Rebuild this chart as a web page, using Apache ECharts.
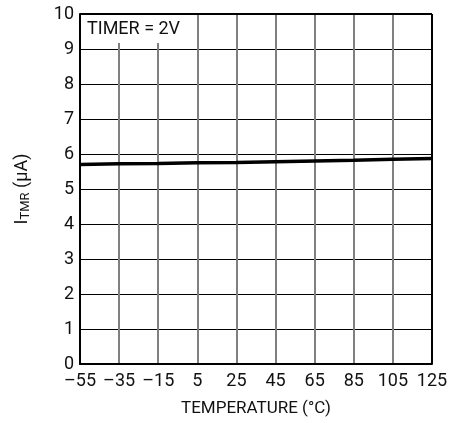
<!DOCTYPE html>
<html><head><meta charset="utf-8">
<script src="https://cdn.jsdelivr.net/npm/echarts@6/dist/echarts.min.js"></script>
<style>html,body{margin:0;padding:0;background:#fff}#c{width:460px;height:423px}</style>
</head><body><div id="c"></div>
<script>
var temps = [-55, -35, -15, 5, 25, 45, 65, 85, 105, 125];
var itmr = [5.70, 5.72, 5.73, 5.75, 5.76, 5.78, 5.80, 5.82, 5.85, 5.87];
var xTicks = ['–55', '–35', '–15', '5', '25', '45', '65', '85', '105', '125'];
var yTicks = ['0','1','2','3','4','5','6','7','8','9','10'];
var FONT = 'Roboto, "Liberation Sans", sans-serif';
var chart = echarts.init(document.getElementById('c'));
chart.setOption({
  animation: false,
  grid: {left: 80, right: 28, top: 14, bottom: 59, show: false},
  xAxis: {
    type: 'value', min: -55, max: 125, interval: 20,
    axisLine: {show: true, onZero: false, lineStyle: {color: '#000', width: 2}},
    axisTick: {show: false},
    axisLabel: {color: '#111', fontFamily: FONT, fontSize: 18, margin: 8,
      formatter: function (v) { var i = temps.indexOf(v); return i >= 0 ? xTicks[i] : ''; }},
    splitLine: {show: true, lineStyle: {color: '#808080', width: 2}},
    name: 'TEMPERATURE (°C)', nameLocation: 'middle', nameGap: 36,
    nameTextStyle: {color: '#111', fontFamily: FONT, fontSize: 17}
  },
  yAxis: {
    type: 'value', min: 0, max: 10, interval: 1,
    axisLine: {show: true, onZero: false, lineStyle: {color: '#000', width: 2}},
    axisTick: {show: false},
    axisLabel: {color: '#111', fontFamily: FONT, fontSize: 18, margin: 6,
      formatter: function (v) { return yTicks[Math.round(v)]; }},
    splitLine: {show: true, lineStyle: {color: '#000', width: 1}},
    name: '{i|I}{s|TMR}{i| (µA)}', nameLocation: 'middle', nameGap: 48,
    nameTextStyle: {color: '#111', fontFamily: FONT, fontSize: 17,
      rich: {i: {fontFamily: FONT, fontSize: 18, color: '#111'},
             s: {fontFamily: FONT, fontSize: 13, color: '#111', verticalAlign: 'bottom', padding: [6,0,0,0]}}}
  },
  series: [{
    type: 'line', data: temps.map(function (t, i) { return [t, itmr[i]]; }),
    symbol: 'none', smooth: false, lineStyle: {color: '#000', width: 3.5}, z: 5
  }, {
    type: 'line', data: [[-55, 10], [125, 10]], symbol: 'none',
    lineStyle: {color: '#000', width: 2}, z: 6, silent: true
  }, {
    type: 'line', data: [[125, 0], [125, 10]], symbol: 'none',
    lineStyle: {color: '#000', width: 2}, z: 6, silent: true
  }],
  graphic: [{
    type: 'rect', shape: {x: 81, y: 15, width: 110, height: 28},
    style: {fill: '#fff'}, z: 100
  }, {
    type: 'text', left: 87, top: 20, z: 101,
    style: {text: 'TIMER = 2V', fill: '#111', font: '18px ' + FONT}
  }]
});
</script></body></html>
